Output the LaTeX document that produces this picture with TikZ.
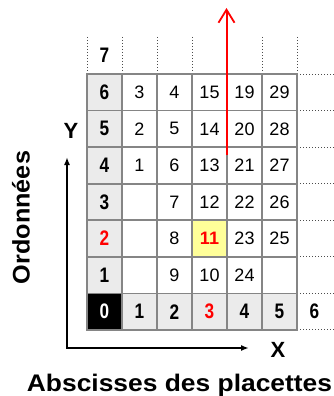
\documentclass[tikz,border=0pt]{standalone}
\usepackage{fontspec}
\setmainfont{Liberation Sans}
\newfontfamily\nbold{Liberation Sans}[FakeStretch=0.82]
\usetikzlibrary{arrows.meta}
\definecolor{cellgrey}{HTML}{EBEBEB}
\definecolor{bordergrey}{HTML}{858585}
\definecolor{celly}{HTML}{FFFF99}
\definecolor{redc}{HTML}{FF0000}
\tikzset{
  cellbox/.style={draw=bordergrey, line width=1.8pt, minimum width=35pt, minimum height=36.57pt, inner sep=0pt, fill=white, font=\fontsize{18}{18}\selectfont},
  axcell/.style={cellbox, fill=cellgrey, font=\nbold\bfseries\fontsize{21}{21}\selectfont},
  plainlab/.style={inner sep=0pt, minimum width=35pt, minimum height=36.57pt, font=\nbold\bfseries\fontsize{21}{21}\selectfont},
  dotline/.style={line width=1pt, dotted, black!70},
  axlabel/.style={inner sep=0pt, font=\bfseries\fontsize{22}{22}\selectfont},
  biglabel/.style={inner sep=0pt, font=\bfseries\fontsize{24}{24}\selectfont},
}
\begin{document}
\begin{tikzpicture}[x=1pt,y=-1pt]
\useasboundingbox (0,0) rectangle (334,396);
% dotted guides
\foreach \i in {0,...,6} {
  \draw[dotline] (87+35*\i,37) -- (87+35*\i,74);
}
\foreach \k in {0,...,7} {
  \draw[dotline] (297,74+36.57*\k) -- (334,74+36.57*\k);
}
% inner cells
\foreach \j/\vals in {6/{3,4,15,19,29},5/{2,5,14,20,28},4/{1,6,13,21,27},3/{,7,12,22,26},2/{,8,11,23,25},1/{,9,10,24,}} {
  \foreach \v [count=\i] in \vals {
    \node[cellbox] (c-\i-\j) at (87+35*\i+17.5, 330-36.57*\j-18.285) {\v};
  }
}
% highlighted cell
\node[cellbox, fill=celly, text=redc, font=\bfseries\fontsize{18}{18}\selectfont] (h-3-2) at (87+35*3+17.5, 330-36.57*2-18.285) {11};
% Y axis cells
\foreach \j in {1,3,4,5,6} {
  \node[axcell] (c-0-\j) at (104.5, 330-36.57*\j-18.285) {\j};
}
\node[axcell, text=redc] (c-0-2) at (104.5, 330-36.57*2-18.285) {2};
% X axis cells
\foreach \i in {1,2,4,5} {
  \node[axcell] (c-\i-0) at (87+35*\i+17.5, 311.7) {\i};
}
\node[axcell, text=redc] (c-3-0) at (87+35*3+17.5, 311.7) {3};
\node[axcell, fill=black, text=white] (c-0-0) at (104.5, 311.7) {0};
% extra labels
\node[plainlab] (c-0-7) at (104.5, 55.7) {7};
\node[plainlab] (c-6-0) at (314.5, 311.7) {6};
% red arrow
\coordinate (rs) at (226.5,155);
\coordinate (re) at (226.5,8);
\draw[redc, line width=2pt, -{Straight Barb[length=13pt,width=16pt,line width=1.8pt]}] (rs) -- (re);
% axes
\coordinate (ytip) at (67,157);
\coordinate (org) at (67,348);
\coordinate (xtip) at (249,348);
\draw[line width=1.6pt, {Latex[length=8pt,width=6pt]}-{Latex[length=8pt,width=6pt]}] (ytip) -- (org) -- (xtip);
\node[axlabel] (ylab) at (71,131) {Y};
\node[axlabel] (xlab) at (278,350) {X};
\node[biglabel, rotate=90] (ord) at (21,217.5) {\scalebox{1.05}[1]{Ordonnées}};
\node[biglabel] (absc) at (179.5,385) {\scalebox{1.1}[1]{Abscisses des placettes}};
\end{tikzpicture}
\end{document}
